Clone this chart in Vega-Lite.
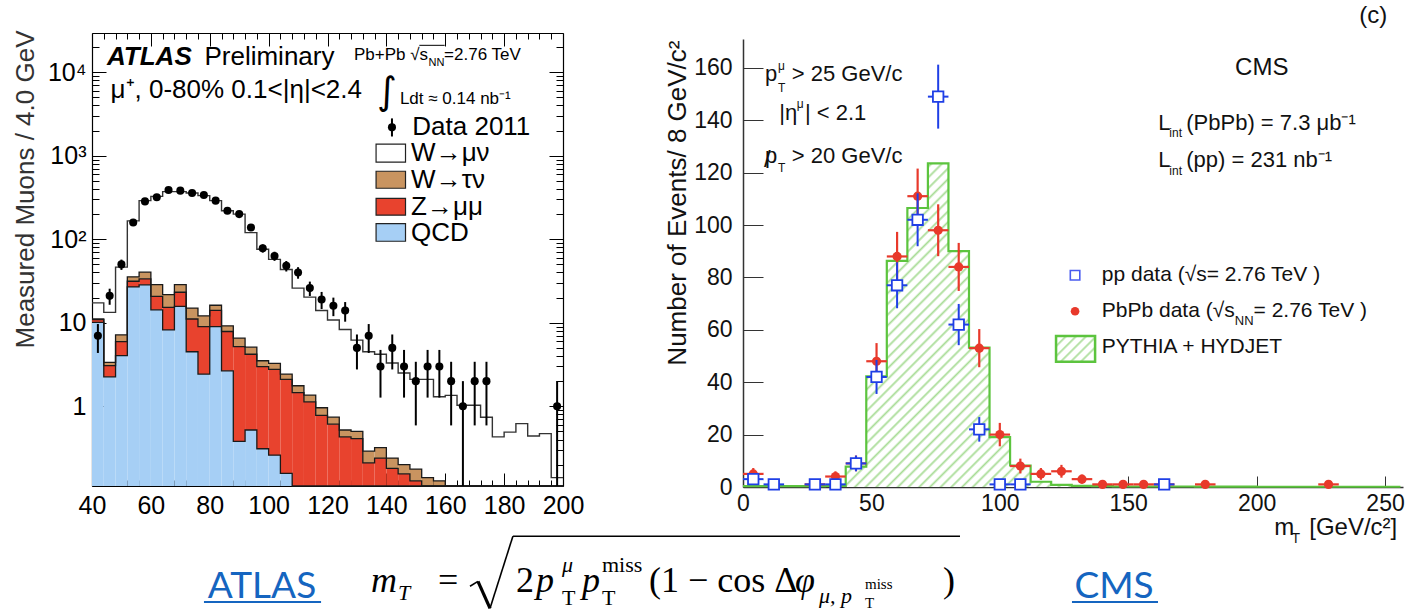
{
"$schema": "https://vega.github.io/schema/vega-lite/v6.json",
"width": 1409, "height": 610, "padding": 0,
"autosize": {"type": "none"},
"background": "#ffffff",
"config": {"view": {"stroke": null}, "font": "Liberation Sans", "axis": {"grid": false, "labelFont": "Liberation Sans", "titleFont": "Liberation Sans"}},
"resolve": {"scale": {"x": "independent", "y": "independent"}},
"layer": [
{
"data": {"values": [
{"lo":40,"hi":44,"q":10.1,"z":10.9,"wt":11.1,"tot":17.3},
{"lo":44,"hi":48,"q":2.25,"z":3.06,"wt":3.36,"tot":13.3},
{"lo":48,"hi":52,"q":4.04,"z":5.95,"wt":7.17,"tot":46.4},
{"lo":52,"hi":56,"q":26.9,"z":31.4,"wt":35.5,"tot":166},
{"lo":56,"hi":60,"q":28.5,"z":33.6,"wt":40.4,"tot":290},
{"lo":60,"hi":64,"q":14.3,"z":20.7,"wt":28.7,"tot":326},
{"lo":64,"hi":68,"q":8.2,"z":15.3,"wt":21.7,"tot":372},
{"lo":68,"hi":72,"q":15.7,"z":23.2,"wt":28.7,"tot":372},
{"lo":72,"hi":76,"q":4.5,"z":11.1,"wt":15.0,"tot":358},
{"lo":76,"hi":80,"q":2.43,"z":9.0,"wt":12.1,"tot":333},
{"lo":80,"hi":84,"q":9.0,"z":14.1,"wt":16.2,"tot":290},
{"lo":84,"hi":88,"q":2.66,"z":7.86,"wt":9.2,"tot":219},
{"lo":88,"hi":92,"q":0.38,"z":5.18,"wt":6.54,"tot":200},
{"lo":92,"hi":96,"q":0.52,"z":4.2,"wt":5.1,"tot":120},
{"lo":96,"hi":100,"q":0.31,"z":2.98,"wt":3.51,"tot":76},
{"lo":100,"hi":104,"q":0.26,"z":2.77,"wt":3.27,"tot":57.5},
{"lo":104,"hi":108,"q":0.157,"z":2.1,"wt":2.43,"tot":43.4},
{"lo":108,"hi":112,"q":0.01,"z":1.46,"wt":1.76,"tot":26},
{"lo":112,"hi":116,"q":0.01,"z":1.13,"wt":1.36,"tot":20.3},
{"lo":116,"hi":120,"q":0.01,"z":0.78,"wt":0.96,"tot":14},
{"lo":120,"hi":124,"q":0.01,"z":0.61,"wt":0.74,"tot":10.8},
{"lo":124,"hi":128,"q":0.01,"z":0.43,"wt":0.52,"tot":8.3},
{"lo":128,"hi":132,"q":0.01,"z":0.41,"wt":0.5,"tot":6.2},
{"lo":132,"hi":136,"q":0.01,"z":0.21,"wt":0.29,"tot":4.5},
{"lo":136,"hi":140,"q":0.01,"z":0.24,"wt":0.32,"tot":4.2},
{"lo":140,"hi":144,"q":0.01,"z":0.18,"wt":0.24,"tot":3.3},
{"lo":144,"hi":148,"q":0.01,"z":0.155,"wt":0.2,"tot":2.5},
{"lo":148,"hi":152,"q":0.01,"z":0.128,"wt":0.177,"tot":2.1},
{"lo":152,"hi":156,"q":0.01,"z":0.1,"wt":0.14,"tot":2.1},
{"lo":156,"hi":160,"q":0.01,"z":0.01,"wt":0.128,"tot":1.3},
{"lo":160,"hi":164,"q":0.01,"z":0.01,"wt":0.01,"tot":1.35},
{"lo":164,"hi":168,"q":0.01,"z":0.01,"wt":0.01,"tot":1.03},
{"lo":168,"hi":172,"q":0.01,"z":0.01,"wt":0.01,"tot":1.03},
{"lo":172,"hi":176,"q":0.01,"z":0.01,"wt":0.01,"tot":0.74},
{"lo":176,"hi":180,"q":0.01,"z":0.01,"wt":0.01,"tot":0.43},
{"lo":180,"hi":184,"q":0.01,"z":0.01,"wt":0.01,"tot":0.49},
{"lo":184,"hi":188,"q":0.01,"z":0.01,"wt":0.01,"tot":0.62},
{"lo":188,"hi":192,"q":0.01,"z":0.01,"wt":0.01,"tot":0.44},
{"lo":192,"hi":196,"q":0.01,"z":0.01,"wt":0.01,"tot":0.47},
{"lo":196,"hi":200,"q":0.01,"z":0.01,"wt":0.01,"tot":0.14},
{"lo":200,"q":0.01,"z":0.01,"wt":0.01,"tot":0.14}
]},
"resolve": {"axis": {"x": "independent", "y": "independent"}},
"layer": [
{"transform": [{"filter": "isValid(datum.hi)"}],
 "mark": {"type": "rect", "fill": "#a6cff5"},
 "encoding": {
  "x": {"field": "lo", "type": "quantitative", "scale": {"domain": [40, 200], "range": [92, 563], "nice": false, "zero": false},
        "axis": {"orient": "bottom", "offset": -124, "values": [40,60,80,100,120,140,160,180,200], "ticks": false, "labelPadding": 7, "labelFontSize": 25, "labelColor": "#000", "labelFlush": false, "labelOverlap": false, "domainColor": "#000", "domainWidth": 1.2, "title": null}},
  "x2": {"field": "hi"},
  "y": {"field": "q", "type": "quantitative", "scale": {"type": "log", "domain": [0.111, 29500], "range": [486, 33], "nice": false, "clamp": true},
        "axis": {"orient": "left", "offset": -92, "values": [1,10,100,1000,10000], "ticks": false, "labelPadding": 6, "labelFontSize": 25, "labelColor": "#000", "labelOverlap": false, "labelExpr": "datum.value >= 10000 ? '10⁴' : datum.value >= 1000 ? '10³' : datum.value >= 100 ? '10²' : datum.value >= 10 ? '10' : '1'", "domainColor": "#000", "domainWidth": 1.2, "title": "Measured Muons / 4.0 GeV", "titleFontSize": 26, "titleFontWeight": "normal", "titleColor": "#333", "titleAnchor": "end", "titleY": 30, "titlePadding": 9}},
  "y2": {"datum": 0.111}
 }},
{"transform": [{"filter": "isValid(datum.hi)"}],
 "mark": {"type": "rect", "fill": "#e8432e"},
 "encoding": {
  "x": {"field": "lo", "type": "quantitative", "axis": {"orient": "top", "offset": -486, "values": [40,60,80,100,120,140,160,180,200], "tickSize": 13, "tickColor": "#000", "labels": false, "domain": false, "title": null}},
  "x2": {"field": "hi"},
  "y": {"field": "z", "type": "quantitative", "axis": {"orient": "right", "offset": -1317, "values": [1,10,100,1000,10000], "tickSize": 14, "tickColor": "#000", "labels": false, "domain": false, "title": null}},
  "y2": {"field": "q"}
 }},
{"transform": [{"filter": "isValid(datum.hi)"}],
 "mark": {"type": "rect", "fill": "#c99460"},
 "encoding": {
  "x": {"field": "lo", "type": "quantitative", "axis": {"orient": "top", "offset": -486, "values": [44,48,52,56,64,68,72,76,84,88,92,96,104,108,112,116,124,128,132,136,144,148,152,156,164,168,172,176,184,188,192,196], "tickSize": 6, "tickColor": "#000", "labels": false, "domain": false, "title": null}},
  "x2": {"field": "hi"},
  "y": {"field": "wt", "type": "quantitative", "axis": {"orient": "right", "offset": -1317, "values": [0.2,0.3,0.4,0.5,0.6,0.7,0.8,0.9,2,3,4,5,6,7,8,9,20,30,40,50,60,70,80,90,200,300,400,500,600,700,800,900,2000,3000,4000,5000,6000,7000,8000,9000,20000], "tickSize": 7, "tickColor": "#000", "labels": false, "domain": false, "title": null}},
  "y2": {"field": "z"}
 }},
{"mark": {"type": "line", "interpolate": "step-after", "color": "#1a1a1a", "strokeWidth": 1.3},
 "encoding": {
  "x": {"field": "lo", "type": "quantitative", "axis": {"orient": "bottom", "offset": -577, "values": [40,60,80,100,120,140,160,180,200], "tickSize": 13, "tickColor": "#000", "labels": false, "domain": true, "domainColor": "#000", "domainWidth": 1.2, "title": null}},
  "y": {"field": "q", "type": "quantitative", "axis": {"orient": "left", "offset": -563, "values": [1,10,100,1000,10000], "tickSize": 14, "tickColor": "#000", "labels": false, "domain": true, "domainColor": "#000", "domainWidth": 1.2, "title": null}}
 }},
{"mark": {"type": "line", "interpolate": "step-after", "color": "#1a1a1a", "strokeWidth": 1.3},
 "encoding": {
  "x": {"field": "lo", "type": "quantitative", "axis": {"orient": "bottom", "offset": -577, "values": [44,48,52,56,64,68,72,76,84,88,92,96,104,108,112,116,124,128,132,136,144,148,152,156,164,168,172,176,184,188,192,196], "tickSize": 6, "tickColor": "#000", "labels": false, "domain": false, "title": null}},
  "y": {"field": "z", "type": "quantitative", "axis": {"orient": "left", "offset": -563, "values": [0.2,0.3,0.4,0.5,0.6,0.7,0.8,0.9,2,3,4,5,6,7,8,9,20,30,40,50,60,70,80,90,200,300,400,500,600,700,800,900,2000,3000,4000,5000,6000,7000,8000,9000,20000], "tickSize": 7, "tickColor": "#000", "labels": false, "domain": false, "title": null}}
 }},
{"mark": {"type": "line", "interpolate": "step-after", "color": "#1a1a1a", "strokeWidth": 1.3},
 "encoding": {"x": {"field": "lo", "type": "quantitative", "axis": null}, "y": {"field": "wt", "type": "quantitative", "axis": null}}},
{"mark": {"type": "line", "interpolate": "step-after", "color": "#333333", "strokeWidth": 1.4},
 "encoding": {"x": {"field": "lo", "type": "quantitative", "axis": null}, "y": {"field": "tot", "type": "quantitative", "axis": null}}},
{"data": {"values": [
{"m":42,"n":7,"lo":4.35,"hi":9.65},{"m":46,"n":21,"lo":16.42,"hi":25.58},{"m":50,"n":50,"lo":42.93,"hi":57.07},{"m":54,"n":159,"lo":146.4,"hi":171.6},
{"m":58,"n":284,"lo":267.1,"hi":300.9},{"m":62,"n":318,"lo":300.2,"hi":335.8},{"m":66,"n":389,"lo":369.3,"hi":408.7},{"m":70,"n":382,"lo":362.5,"hi":401.5},
{"m":74,"n":358,"lo":339.1,"hi":376.9},{"m":78,"n":339,"lo":320.6,"hi":357.4},{"m":82,"n":290,"lo":273,"hi":307},{"m":86,"n":219,"lo":204.2,"hi":233.8},
{"m":90,"n":200,"lo":185.9,"hi":214.1},{"m":94,"n":138,"lo":126.3,"hi":149.7},{"m":98,"n":78,"lo":69.2,"hi":86.8},{"m":102,"n":63,"lo":55.1,"hi":70.9},
{"m":106,"n":48,"lo":41.1,"hi":54.9},{"m":110,"n":40,"lo":33.7,"hi":46.3},{"m":114,"n":26,"lo":20.9,"hi":31.1},{"m":118,"n":19,"lo":14.6,"hi":23.4},
{"m":122,"n":16,"lo":12,"hi":20},{"m":126,"n":14,"lo":10.3,"hi":17.7},{"m":130,"n":5,"lo":2.76,"hi":7.24},{"m":134,"n":7,"lo":4.35,"hi":9.65},
{"m":138,"n":3,"lo":1.27,"hi":4.73},{"m":142,"n":5,"lo":2.76,"hi":7.24},{"m":146,"n":3,"lo":1.27,"hi":4.73},{"m":150,"n":2,"lo":0.59,"hi":3.41},
{"m":154,"n":3,"lo":1.27,"hi":4.73},{"m":158,"n":3,"lo":1.27,"hi":4.73},{"m":162,"n":2,"lo":0.59,"hi":3.41},{"m":166,"n":1,"lo":0.01,"hi":2},
{"m":170,"n":2,"lo":0.59,"hi":3.41},{"m":174,"n":2,"lo":0.59,"hi":3.41},{"m":198,"n":1,"lo":0.01,"hi":2}
]},
 "layer": [
  {"mark": {"type": "rule", "color": "#000", "strokeWidth": 2},
   "encoding": {"x": {"field": "m", "type": "quantitative", "axis": null}, "y": {"field": "lo", "type": "quantitative", "axis": null}, "y2": {"field": "hi"}}},
  {"mark": {"type": "point", "filled": true, "color": "#000", "size": 65, "opacity": 1},
   "encoding": {"x": {"field": "m", "type": "quantitative", "axis": null}, "y": {"field": "n", "type": "quantitative", "axis": null}}}
 ]},
{"data": {"values": [
 {"label": "W→μν", "x1": 136.5, "x2": 146.5, "y1": 838, "y2": 1374},
 {"label": "W→τν", "x1": 136.5, "x2": 146.5, "y1": 408, "y2": 652},
 {"label": "Z→μμ", "x1": 136.5, "x2": 146.5, "y1": 194, "y2": 309},
 {"label": "QCD", "x1": 136.5, "x2": 146.5, "y1": 94.6, "y2": 154}
]},
 "mark": {"type": "rect", "stroke": "#222", "strokeWidth": 1.2},
 "encoding": {
  "x": {"field": "x1", "type": "quantitative", "axis": null}, "x2": {"field": "x2"},
  "y": {"field": "y1", "type": "quantitative", "axis": null}, "y2": {"field": "y2"},
  "fill": {"field": "label", "type": "nominal", "legend": null, "scale": {"domain": ["W→μν", "W→τν", "Z→μμ", "QCD"], "range": ["#ffffff", "#c99460", "#e8432e", "#a6cff5"]}}
 }},
{"data": {"values": [{"x": 141.9, "y": 2188, "lo": 1700, "hi": 2800}]},
 "layer": [
  {"mark": {"type": "rule", "color": "#000", "strokeWidth": 2}, "encoding": {"x": {"field": "x", "type": "quantitative", "axis": null}, "y": {"field": "lo", "type": "quantitative", "axis": null}, "y2": {"field": "hi"}}},
  {"mark": {"type": "point", "filled": true, "color": "#000", "size": 65, "opacity": 1}, "encoding": {"x": {"field": "x", "type": "quantitative", "axis": null}, "y": {"field": "y", "type": "quantitative", "axis": null}}}
 ]},
{"data": {"values": [
 {"t": "Preliminary", "x": 78.2, "y": 15070},
 {"t": "μ⁺, 0-80% 0.1<|η|<2.4", "x": 46.3, "y": 6095},
 {"t": "Data 2011", "x": 148.8, "y": 2188},
 {"t": "W→μν", "x": 148.4, "y": 1076},
 {"t": "W→τν", "x": 148.4, "y": 516},
 {"t": "Z→μμ", "x": 148.4, "y": 245},
 {"t": "QCD", "x": 148.4, "y": 120}
]},
 "mark": {"type": "text", "align": "left", "baseline": "middle", "fontSize": 26, "font": "Liberation Sans", "color": "#000"},
 "encoding": {"x": {"field": "x", "type": "quantitative", "axis": null}, "y": {"field": "y", "type": "quantitative", "axis": null}, "text": {"field": "t"}}},
{"data": {"values": [{"t": "ATLAS", "x": 45.1, "y": 15070}]},
 "mark": {"type": "text", "align": "left", "baseline": "middle", "fontSize": 26, "fontWeight": "bold", "fontStyle": "italic", "font": "Liberation Sans", "color": "#000"},
 "encoding": {"x": {"field": "x", "type": "quantitative", "axis": null}, "y": {"field": "y", "type": "quantitative", "axis": null}, "text": {"field": "t"}}},
{"data": {"values": [{"t": "Pb+Pb √s", "x": 129, "y": 16220}, {"t": "=2.76 TeV", "x": 159.6, "y": 16220}, {"t": "Ldt ≈ 0.14 nb⁻¹", "x": 144.6, "y": 4830}]},
 "mark": {"type": "text", "align": "left", "baseline": "middle", "fontSize": 17, "font": "Liberation Sans", "color": "#000"},
 "encoding": {"x": {"field": "x", "type": "quantitative", "axis": null}, "y": {"field": "y", "type": "quantitative", "axis": null}, "text": {"field": "t"}}},
{"data": {"values": [{"t": "NN", "x": 154.3, "y": 12880}]},
 "mark": {"type": "text", "align": "left", "baseline": "middle", "fontSize": 11, "font": "Liberation Sans", "color": "#000"},
 "encoding": {"x": {"field": "x", "type": "quantitative", "axis": null}, "y": {"field": "y", "type": "quantitative", "axis": null}, "text": {"field": "t"}}},
{"data": {"values": [{"x": 151.2, "x2": 159.8, "y": 21000}]},
 "mark": {"type": "rule", "color": "#000", "strokeWidth": 1},
 "encoding": {"x": {"field": "x", "type": "quantitative", "axis": null}, "x2": {"field": "x2"}, "y": {"field": "y", "type": "quantitative", "axis": null}}},
{"data": {"values": [{"t": "∫", "x": 140.3, "y": 5715}]},
 "mark": {"type": "text", "align": "center", "baseline": "middle", "fontSize": 38, "font": "DejaVu Sans", "color": "#000"},
 "encoding": {"x": {"field": "x", "type": "quantitative", "axis": null}, "y": {"field": "y", "type": "quantitative", "axis": null}, "text": {"field": "t"}}}
]
},
{
"resolve": {"axis": {"x": "independent", "y": "independent"}},
"layer": [
{"data": {"values": [
 {"m":40,"v":7.8},{"m":48,"v":42.2},{"m":56,"v":86.3},{"m":64,"v":106.5},{"m":72,"v":123.5},{"m":80,"v":90},{"m":88,"v":53.2},{"m":96,"v":19},{"m":104,"v":8.2},{"m":112,"v":2},{"m":120,"v":0.8},{"m":128,"v":0.4},{"m":136,"v":0.3}
]},
 "mark": {"type": "area", "interpolate": "step-after", "fill": {"gradient": "linear", "x1": 0, "y1": 0, "x2": 1, "y2": 1.31, "stops": [
{"offset":0,"color":"#a8dc96"},{"offset":0.004,"color":"#fff"},{"offset":0.0125,"color":"#fff"},
{"offset":0.016,"color":"#a8dc96"},{"offset":0.02,"color":"#fff"},{"offset":0.0285,"color":"#fff"},
{"offset":0.032,"color":"#a8dc96"},{"offset":0.036,"color":"#fff"},{"offset":0.0445,"color":"#fff"},
{"offset":0.048,"color":"#a8dc96"},{"offset":0.052,"color":"#fff"},{"offset":0.0605,"color":"#fff"},
{"offset":0.064,"color":"#a8dc96"},{"offset":0.068,"color":"#fff"},{"offset":0.0765,"color":"#fff"},
{"offset":0.08,"color":"#a8dc96"},{"offset":0.084,"color":"#fff"},{"offset":0.0925,"color":"#fff"},
{"offset":0.096,"color":"#a8dc96"},{"offset":0.1,"color":"#fff"},{"offset":0.1085,"color":"#fff"},
{"offset":0.112,"color":"#a8dc96"},{"offset":0.116,"color":"#fff"},{"offset":0.1245,"color":"#fff"},
{"offset":0.128,"color":"#a8dc96"},{"offset":0.132,"color":"#fff"},{"offset":0.1405,"color":"#fff"},
{"offset":0.144,"color":"#a8dc96"},{"offset":0.148,"color":"#fff"},{"offset":0.1565,"color":"#fff"},
{"offset":0.16,"color":"#a8dc96"},{"offset":0.164,"color":"#fff"},{"offset":0.1725,"color":"#fff"},
{"offset":0.176,"color":"#a8dc96"},{"offset":0.18,"color":"#fff"},{"offset":0.1885,"color":"#fff"},
{"offset":0.192,"color":"#a8dc96"},{"offset":0.196,"color":"#fff"},{"offset":0.2045,"color":"#fff"},
{"offset":0.208,"color":"#a8dc96"},{"offset":0.212,"color":"#fff"},{"offset":0.2205,"color":"#fff"},
{"offset":0.224,"color":"#a8dc96"},{"offset":0.228,"color":"#fff"},{"offset":0.2365,"color":"#fff"},
{"offset":0.24,"color":"#a8dc96"},{"offset":0.244,"color":"#fff"},{"offset":0.2525,"color":"#fff"},
{"offset":0.256,"color":"#a8dc96"},{"offset":0.26,"color":"#fff"},{"offset":0.2685,"color":"#fff"},
{"offset":0.272,"color":"#a8dc96"},{"offset":0.276,"color":"#fff"},{"offset":0.2845,"color":"#fff"},
{"offset":0.288,"color":"#a8dc96"},{"offset":0.292,"color":"#fff"},{"offset":0.3005,"color":"#fff"},
{"offset":0.304,"color":"#a8dc96"},{"offset":0.308,"color":"#fff"},{"offset":0.3165,"color":"#fff"},
{"offset":0.32,"color":"#a8dc96"},{"offset":0.324,"color":"#fff"},{"offset":0.3325,"color":"#fff"},
{"offset":0.336,"color":"#a8dc96"},{"offset":0.34,"color":"#fff"},{"offset":0.3485,"color":"#fff"},
{"offset":0.352,"color":"#a8dc96"},{"offset":0.356,"color":"#fff"},{"offset":0.3645,"color":"#fff"},
{"offset":0.368,"color":"#a8dc96"},{"offset":0.372,"color":"#fff"},{"offset":0.3805,"color":"#fff"},
{"offset":0.384,"color":"#a8dc96"},{"offset":0.388,"color":"#fff"},{"offset":0.3965,"color":"#fff"},
{"offset":0.4,"color":"#a8dc96"},{"offset":0.404,"color":"#fff"},{"offset":0.4125,"color":"#fff"},
{"offset":0.416,"color":"#a8dc96"},{"offset":0.42,"color":"#fff"},{"offset":0.4285,"color":"#fff"},
{"offset":0.432,"color":"#a8dc96"},{"offset":0.436,"color":"#fff"},{"offset":0.4445,"color":"#fff"},
{"offset":0.448,"color":"#a8dc96"},{"offset":0.452,"color":"#fff"},{"offset":0.4605,"color":"#fff"},
{"offset":0.464,"color":"#a8dc96"},{"offset":0.468,"color":"#fff"},{"offset":0.4765,"color":"#fff"},
{"offset":0.48,"color":"#a8dc96"},{"offset":0.484,"color":"#fff"},{"offset":0.4925,"color":"#fff"},
{"offset":0.496,"color":"#a8dc96"},{"offset":0.5,"color":"#fff"},{"offset":0.5085,"color":"#fff"},
{"offset":0.512,"color":"#a8dc96"},{"offset":0.516,"color":"#fff"},{"offset":0.5245,"color":"#fff"},
{"offset":0.528,"color":"#a8dc96"},{"offset":0.532,"color":"#fff"},{"offset":0.5405,"color":"#fff"},
{"offset":0.544,"color":"#a8dc96"},{"offset":0.548,"color":"#fff"},{"offset":0.5565,"color":"#fff"},
{"offset":0.56,"color":"#a8dc96"},{"offset":0.564,"color":"#fff"},{"offset":0.5725,"color":"#fff"},
{"offset":0.576,"color":"#a8dc96"},{"offset":0.58,"color":"#fff"},{"offset":0.5885,"color":"#fff"},
{"offset":0.592,"color":"#a8dc96"},{"offset":0.596,"color":"#fff"},{"offset":0.6045,"color":"#fff"},
{"offset":0.608,"color":"#a8dc96"},{"offset":0.612,"color":"#fff"},{"offset":0.6205,"color":"#fff"},
{"offset":0.624,"color":"#a8dc96"},{"offset":0.628,"color":"#fff"},{"offset":0.6365,"color":"#fff"},
{"offset":0.64,"color":"#a8dc96"},{"offset":0.644,"color":"#fff"},{"offset":0.6525,"color":"#fff"},
{"offset":0.656,"color":"#a8dc96"},{"offset":0.66,"color":"#fff"},{"offset":0.6685,"color":"#fff"},
{"offset":0.672,"color":"#a8dc96"},{"offset":0.676,"color":"#fff"},{"offset":0.6845,"color":"#fff"},
{"offset":0.688,"color":"#a8dc96"},{"offset":0.692,"color":"#fff"},{"offset":0.7005,"color":"#fff"},
{"offset":0.704,"color":"#a8dc96"},{"offset":0.708,"color":"#fff"},{"offset":0.7165,"color":"#fff"},
{"offset":0.72,"color":"#a8dc96"},{"offset":0.724,"color":"#fff"},{"offset":0.7325,"color":"#fff"},
{"offset":0.736,"color":"#a8dc96"},{"offset":0.74,"color":"#fff"},{"offset":0.7485,"color":"#fff"},
{"offset":0.752,"color":"#a8dc96"},{"offset":0.756,"color":"#fff"},{"offset":0.7645,"color":"#fff"},
{"offset":0.768,"color":"#a8dc96"},{"offset":0.772,"color":"#fff"},{"offset":0.7805,"color":"#fff"},
{"offset":0.784,"color":"#a8dc96"},{"offset":0.788,"color":"#fff"},{"offset":0.7965,"color":"#fff"},
{"offset":0.8,"color":"#a8dc96"},{"offset":0.804,"color":"#fff"},{"offset":0.8125,"color":"#fff"},
{"offset":0.816,"color":"#a8dc96"},{"offset":0.82,"color":"#fff"},{"offset":0.8285,"color":"#fff"},
{"offset":0.832,"color":"#a8dc96"},{"offset":0.836,"color":"#fff"},{"offset":0.8445,"color":"#fff"},
{"offset":0.848,"color":"#a8dc96"},{"offset":0.852,"color":"#fff"},{"offset":1,"color":"#fff"}
]}},
 "encoding": {
  "x": {"field": "m", "type": "quantitative", "scale": {"domain": [0, 257], "range": [743, 1403], "nice": false, "zero": false},
        "axis": {"orient": "bottom", "offset": -123, "values": [0,50,100,150,200,250], "ticks": false, "labelPadding": 5, "labelFontSize": 23, "labelColor": "#111", "labelFlush": false, "labelOverlap": false, "domainColor": "#333", "domainWidth": 1.5, "title": null}},
  "y": {"field": "v", "type": "quantitative", "scale": {"domain": [0, 171], "range": [487, 39], "nice": false, "zero": false},
        "axis": {"orient": "left", "offset": -743, "values": [0,20,40,60,80,100,120,140,160], "ticks": false, "labelPadding": 11, "labelFontSize": 23, "labelColor": "#111", "labelOverlap": false, "domainColor": "#333", "domainWidth": 1.5, "title": "Number of Events/ 8 GeV/c²", "titleFontSize": 26, "titleFontWeight": "normal", "titleColor": "#111", "titleAnchor": "end", "titleY": 40, "titlePadding": 3}}
 }},
{"data": {"values": [
 {"m":0,"v":0.3},{"m":8,"v":0.3},{"m":16,"v":0.3},{"m":24,"v":0.3},{"m":32,"v":0.4},{"m":40,"v":7.8},{"m":48,"v":42.2},{"m":56,"v":86.3},{"m":64,"v":106.5},{"m":72,"v":123.5},{"m":80,"v":90},{"m":88,"v":53.2},{"m":96,"v":19},{"m":104,"v":8.2},{"m":112,"v":2},{"m":120,"v":0.8},{"m":128,"v":0.4},{"m":136,"v":0.3},{"m":144,"v":0.2},{"m":152,"v":0.2},{"m":160,"v":0.2},{"m":168,"v":0.2},{"m":176,"v":0.15},{"m":184,"v":0.15},{"m":192,"v":0.15},{"m":200,"v":0.1},{"m":208,"v":0.1},{"m":216,"v":0.1},{"m":224,"v":0.1},{"m":232,"v":0.1},{"m":240,"v":0.1},{"m":248,"v":0.1},{"m":256,"v":0.1}
]},
 "mark": {"type": "line", "interpolate": "step-after", "color": "#5cc43e", "strokeWidth": 2.2},
 "encoding": {
  "x": {"field": "m", "type": "quantitative", "axis": {"orient": "top", "offset": -487, "values": [0,50,100,150,200,250], "tickSize": 11, "tickColor": "#333", "labels": false, "domain": false, "title": null}},
  "y": {"field": "v", "type": "quantitative", "axis": {"orient": "right", "offset": -666, "values": [0,20,40,60,80,100,120,140,160], "tickSize": 20, "tickColor": "#333", "labels": false, "domain": false, "title": null}}
 }},
{"data": {"values": [
 {"m":4,"n":5,"lo":2.76,"hi":7.24,"xl":0,"xh":8},{"m":28,"n":1,"lo":0,"hi":2,"xl":24,"xh":32},{"m":36,"n":4,"lo":2,"hi":6,"xl":32,"xh":40},{"m":44,"n":9,"lo":6,"hi":12,"xl":40,"xh":48},
 {"m":52,"n":48,"lo":41.07,"hi":54.93,"xl":48,"xh":56},{"m":60,"n":88,"lo":78.62,"hi":97.38,"xl":56,"xh":64},{"m":68,"n":111,"lo":100.46,"hi":121.54,"xl":64,"xh":72},{"m":76,"n":98,"lo":88.1,"hi":107.9,"xl":72,"xh":80},
 {"m":84,"n":84,"lo":74.83,"hi":93.17,"xl":80,"xh":88},{"m":92,"n":53,"lo":45.72,"hi":60.28,"xl":88,"xh":96},{"m":100,"n":20,"lo":15.53,"hi":24.47,"xl":96,"xh":104},{"m":108,"n":8,"lo":5.17,"hi":10.83,"xl":104,"xh":112},
 {"m":116,"n":5,"lo":2.76,"hi":7.24,"xl":112,"xh":120},{"m":124,"n":6,"lo":3.55,"hi":8.45,"xl":120,"xh":128},{"m":132,"n":3,"lo":1.27,"hi":4.73,"xl":128,"xh":136},{"m":140,"n":1,"lo":0,"hi":2,"xl":136,"xh":144},
 {"m":148,"n":1,"lo":0,"hi":2,"xl":144,"xh":152},{"m":156,"n":1,"lo":0,"hi":2,"xl":152,"xh":160},{"m":164,"n":1,"lo":0,"hi":2,"xl":160,"xh":168},{"m":180,"n":1,"lo":0,"hi":2,"xl":176,"xh":184},{"m":228,"n":1,"lo":0,"hi":2,"xl":224,"xh":232}
]},
 "layer": [
  {"mark": {"type": "rule", "color": "#e8392b", "strokeWidth": 2.2},
   "encoding": {
    "x": {"field": "xl", "type": "quantitative", "axis": {"orient": "top", "offset": -487, "values": [10,20,30,40,60,70,80,90,110,120,130,140,160,170,180,190,210,220,230,240], "tickSize": 5.5, "tickColor": "#333", "labels": false, "domain": false, "title": null}},
    "x2": {"field": "xh"},
    "y": {"field": "n", "type": "quantitative", "axis": {"orient": "right", "offset": -666, "values": [5,10,15,25,30,35,45,50,55,65,70,75,85,90,95,105,110,115,125,130,135,145,150,155,165,170], "tickSize": 10, "tickColor": "#333", "labels": false, "domain": false, "title": null}}
   }},
  {"mark": {"type": "rule", "color": "#e8392b", "strokeWidth": 2.2},
   "encoding": {
    "x": {"field": "m", "type": "quantitative", "axis": {"orient": "top", "offset": -39, "ticks": false, "labels": false, "domain": true, "domainColor": "#333", "domainWidth": 1.5, "title": null}},
    "y": {"field": "lo", "type": "quantitative", "axis": {"orient": "right", "offset": -6, "ticks": false, "labels": false, "domain": true, "domainColor": "#333", "domainWidth": 1.5, "title": null}},
    "y2": {"field": "hi"}
   }},
  {"mark": {"type": "point", "filled": true, "shape": "circle", "color": "#e8392b", "size": 85, "opacity": 1},
   "encoding": {"x": {"field": "m", "type": "quantitative", "axis": null}, "y": {"field": "n", "type": "quantitative", "axis": null}}}
 ]},
{"data": {"values": [
 {"m":4,"n":3,"lo":1.27,"hi":4.73,"xl":0,"xh":8},{"m":12,"n":1,"lo":0,"hi":2,"xl":8,"xh":16},{"m":28,"n":1,"lo":0,"hi":2,"xl":24,"xh":32},{"m":36,"n":1,"lo":0,"hi":2,"xl":32,"xh":40},
 {"m":44,"n":9,"lo":6,"hi":12,"xl":40,"xh":48},{"m":52,"n":42,"lo":35.52,"hi":48.48,"xl":48,"xh":56},{"m":60,"n":77,"lo":68.23,"hi":85.77,"xl":56,"xh":64},{"m":68,"n":102,"lo":91.9,"hi":112.1,"xl":64,"xh":72},
 {"m":76,"n":149,"lo":136.79,"hi":161.21,"xl":72,"xh":80},{"m":84,"n":62,"lo":54.13,"hi":69.87,"xl":80,"xh":88},{"m":92,"n":22,"lo":17.31,"hi":26.69,"xl":88,"xh":96},{"m":100,"n":1,"lo":0,"hi":2,"xl":96,"xh":104},
 {"m":108,"n":1,"lo":0,"hi":2,"xl":104,"xh":112},{"m":164,"n":1,"lo":0,"hi":2,"xl":160,"xh":168}
]},
 "layer": [
  {"mark": {"type": "rule", "color": "#1f3fe6", "strokeWidth": 2},
   "encoding": {"x": {"field": "xl", "type": "quantitative", "axis": null}, "x2": {"field": "xh"}, "y": {"field": "n", "type": "quantitative", "axis": null}}},
  {"mark": {"type": "rule", "color": "#1f3fe6", "strokeWidth": 2},
   "encoding": {"x": {"field": "m", "type": "quantitative", "axis": null}, "y": {"field": "lo", "type": "quantitative", "axis": null}, "y2": {"field": "hi"}}},
  {"mark": {"type": "point", "filled": false, "shape": "square", "fill": "#ffffff", "fillOpacity": 1, "stroke": "#1f3fe6", "strokeWidth": 1.8, "size": 110, "opacity": 1},
   "encoding": {"x": {"field": "m", "type": "quantitative", "axis": null}, "y": {"field": "n", "type": "quantitative", "axis": null}}}
 ]},
{"data": {"values": [{"x": 121.9, "x2": 137.1, "y": 47.8, "y2": 57.6}]},
 "mark": {"type": "rect", "stroke": "#5cc43e", "strokeWidth": 2.5, "fill": {"gradient": "linear", "x1": 0, "y1": 0, "x2": 1, "y2": 0.66, "stops": [
  {"offset":0,"color":"#a8dc96"},{"offset":0.045,"color":"#fff"},{"offset":0.14,"color":"#fff"},
  {"offset":0.18,"color":"#a8dc96"},{"offset":0.225,"color":"#fff"},{"offset":0.32,"color":"#fff"},
  {"offset":0.36,"color":"#a8dc96"},{"offset":0.405,"color":"#fff"},{"offset":0.5,"color":"#fff"},
  {"offset":0.54,"color":"#a8dc96"},{"offset":0.585,"color":"#fff"},{"offset":0.68,"color":"#fff"},
  {"offset":0.72,"color":"#a8dc96"},{"offset":0.765,"color":"#fff"},{"offset":0.86,"color":"#fff"},
  {"offset":0.9,"color":"#a8dc96"},{"offset":0.945,"color":"#fff"},{"offset":1,"color":"#fff"}]}},
 "encoding": {"x": {"field": "x", "type": "quantitative", "axis": null}, "x2": {"field": "x2"}, "y": {"field": "y", "type": "quantitative", "axis": null}, "y2": {"field": "y2"}}},
{"data": {"values": [{"x": 129.3, "y": 80.8}]},
 "mark": {"type": "point", "filled": false, "shape": "square", "fill": "#fff", "fillOpacity": 1, "stroke": "#4a5cf0", "strokeWidth": 1.6, "size": 90, "opacity": 1},
 "encoding": {"x": {"field": "x", "type": "quantitative", "axis": null}, "y": {"field": "y", "type": "quantitative", "axis": null}}},
{"data": {"values": [{"x": 129.3, "y": 67.1}]},
 "mark": {"type": "point", "filled": true, "shape": "circle", "color": "#e8392b", "size": 75, "opacity": 1},
 "encoding": {"x": {"field": "x", "type": "quantitative", "axis": null}, "y": {"field": "y", "type": "quantitative", "axis": null}}},
{"data": {"values": [
 {"t": "pp data (√s= 2.76 TeV )", "x": 139.7, "y": 80.8},
 {"t": "PbPb data (√s", "x": 139.7, "y": 67.1},
 {"t": "= 2.76 TeV )", "x": 198.8, "y": 67.1},
 {"t": "PYTHIA + HYDJET", "x": 139.7, "y": 53.5}
]},
 "mark": {"type": "text", "align": "left", "baseline": "middle", "fontSize": 21, "font": "Liberation Sans", "color": "#111"},
 "encoding": {"x": {"field": "x", "type": "quantitative", "axis": null}, "y": {"field": "y", "type": "quantitative", "axis": null}, "text": {"field": "t"}}},
{"data": {"values": [{"t": "NN", "x": 191.5, "y": 63.3}]},
 "mark": {"type": "text", "align": "left", "baseline": "middle", "fontSize": 13, "font": "Liberation Sans", "color": "#111"},
 "encoding": {"x": {"field": "x", "type": "quantitative", "axis": null}, "y": {"field": "y", "type": "quantitative", "axis": null}, "text": {"field": "t"}}},
{"data": {"values": [
 {"t": "p", "x": 8.6, "y": 154.8}, {"t": "> 25 GeV/c", "x": 19.0, "y": 154.8},
 {"t": "|η", "x": 14.1, "y": 140.1}, {"t": "| < 2.1", "x": 24.1, "y": 140.1},
 {"t": "p", "x": 8.6, "y": 123.6}, {"t": "> 20 GeV/c", "x": 19.0, "y": 123.6},
 {"t": "L", "x": 161.7, "y": 136.4}, {"t": "(PbPb) = 7.3 μb⁻¹", "x": 172.6, "y": 136.4},
 {"t": "L", "x": 161.7, "y": 122}, {"t": "(pp) = 231 nb⁻¹", "x": 172.6, "y": 122}
]},
 "mark": {"type": "text", "align": "left", "baseline": "alphabetic", "fontSize": 22, "font": "Liberation Sans", "color": "#111"},
 "encoding": {"x": {"field": "x", "type": "quantitative", "axis": null}, "y": {"field": "y", "type": "quantitative", "axis": null}, "text": {"field": "t"}}},
{"data": {"values": [
 {"t": "T", "x": 13.6, "y": 150.9}, {"t": "μ", "x": 13.6, "y": 159}, {"t": "μ", "x": 20.9, "y": 144.6}, {"t": "T", "x": 13.6, "y": 120.4},
 {"t": "int", "x": 166.0, "y": 133.5}, {"t": "int", "x": 166.0, "y": 119.2}
]},
 "mark": {"type": "text", "align": "left", "baseline": "alphabetic", "fontSize": 12, "font": "Liberation Sans", "color": "#111"},
 "encoding": {"x": {"field": "x", "type": "quantitative", "axis": null}, "y": {"field": "y", "type": "quantitative", "axis": null}, "text": {"field": "t"}}},
{"data": {"values": [{"t": "/", "x": 8.2, "y": 122.3}]},
 "mark": {"type": "text", "align": "left", "baseline": "alphabetic", "fontSize": 24, "font": "Liberation Sans", "color": "#111"},
 "encoding": {"x": {"field": "x", "type": "quantitative", "axis": null}, "y": {"field": "y", "type": "quantitative", "axis": null}, "text": {"field": "t"}}},
{"data": {"values": [{"t": "CMS", "x": 202, "y": 159.9}, {"t": "(c)", "x": 245.4, "y": 179.6}]},
 "mark": {"type": "text", "align": "center", "baseline": "middle", "fontSize": 24, "font": "Liberation Sans", "color": "#111"},
 "encoding": {"x": {"field": "x", "type": "quantitative", "axis": null}, "y": {"field": "y", "type": "quantitative", "axis": null}, "text": {"field": "t"}}},
{"data": {"values": [{"t": "m", "x": 206.9, "y": -18.5}, {"t": "[GeV/c²]", "x": 220.5, "y": -18.5}]},
 "mark": {"type": "text", "align": "left", "baseline": "alphabetic", "fontSize": 24, "font": "Liberation Sans", "color": "#111"},
 "encoding": {"x": {"field": "x", "type": "quantitative", "axis": null}, "y": {"field": "y", "type": "quantitative", "axis": null}, "text": {"field": "t"}}},
{"data": {"values": [{"t": "T", "x": 213.6, "y": -21.5}]},
 "mark": {"type": "text", "align": "left", "baseline": "alphabetic", "fontSize": 14, "font": "Liberation Sans", "color": "#111"},
 "encoding": {"x": {"field": "x", "type": "quantitative", "axis": null}, "y": {"field": "y", "type": "quantitative", "axis": null}, "text": {"field": "t"}}},
{"data": {"values": [{"t": "ATLAS", "x": -187.3, "y": -42.2}, {"t": "CMS", "x": 144.5, "y": -42.2}]},
 "mark": {"type": "text", "align": "center", "baseline": "alphabetic", "fontSize": 37, "font": "Lato", "color": "#1565c0"},
 "encoding": {"x": {"field": "x", "type": "quantitative", "axis": null}, "y": {"field": "y", "type": "quantitative", "axis": null}, "text": {"field": "t"}}},
{"data": {"values": [{"x": -209.9, "x2": -164.3, "y": -43.9}, {"x": 128.1, "x2": 161.6, "y": -43.9}]},
 "mark": {"type": "rule", "color": "#1565c0", "strokeWidth": 2},
 "encoding": {"x": {"field": "x", "type": "quantitative", "axis": null}, "x2": {"field": "x2"}, "y": {"field": "y", "type": "quantitative", "axis": null}}},
{"data": {"values": [
 {"x": -106.3, "y": -37.9, "x2": -103.2, "y2": -36.0},
 {"x": -98.5, "y": -46.3, "x2": -89.6, "y2": -18.8},
 {"x": -89.6, "y": -18.8, "x2": 84.5, "y2": -18.8}
]},
 "mark": {"type": "rule", "color": "#000", "strokeWidth": 1.6},
 "encoding": {"x": {"field": "x", "type": "quantitative", "axis": null}, "x2": {"field": "x2"}, "y": {"field": "y", "type": "quantitative", "axis": null}, "y2": {"field": "y2"}}},
{"data": {"values": [{"x": -103.2, "y": -36.0, "x2": -98.5, "y2": -46.3}]},
 "mark": {"type": "rule", "color": "#000", "strokeWidth": 3.2},
 "encoding": {"x": {"field": "x", "type": "quantitative", "axis": null}, "x2": {"field": "x2"}, "y": {"field": "y", "type": "quantitative", "axis": null}, "y2": {"field": "y2"}}},
{"data": {"values": [{"t": "=", "x": -118.8, "y": -40.2}, {"t": "2", "x": -88.4, "y": -40.2}, {"t": "(1 − cos Δ", "x": -36.6, "y": -40.2}, {"t": ")", "x": 77.9, "y": -40.2}]},
 "mark": {"type": "text", "align": "left", "baseline": "alphabetic", "fontSize": 36, "font": "Liberation Serif", "color": "#000"},
 "encoding": {"x": {"field": "x", "type": "quantitative", "axis": null}, "y": {"field": "y", "type": "quantitative", "axis": null}, "text": {"field": "t"}}},
{"data": {"values": [{"t": "m", "x": -144.9, "y": -40.2}, {"t": "p", "x": -80.6, "y": -40.2}, {"t": "p", "x": -62.7, "y": -40.2}, {"t": "φ", "x": 20.2, "y": -40.2}]},
 "mark": {"type": "text", "align": "left", "baseline": "alphabetic", "fontSize": 36, "fontStyle": "italic", "font": "Liberation Serif", "color": "#000"},
 "encoding": {"x": {"field": "x", "type": "quantitative", "axis": null}, "y": {"field": "y", "type": "quantitative", "axis": null}, "text": {"field": "t"}}},
{"data": {"values": [{"t": "T", "x": -134.3, "y": -43.3}, {"t": "μ", "x": -70.5, "y": -32.6}, {"t": "μ, p", "x": 29.6, "y": -44.1}]},
 "mark": {"type": "text", "align": "left", "baseline": "alphabetic", "fontSize": 22, "fontStyle": "italic", "font": "Liberation Serif", "color": "#000"},
 "encoding": {"x": {"field": "x", "type": "quantitative", "axis": null}, "y": {"field": "y", "type": "quantitative", "axis": null}, "text": {"field": "t"}}},
{"data": {"values": [{"t": "T", "x": -70.5, "y": -45.2}, {"t": "miss", "x": -54.9, "y": -32.6}, {"t": "T", "x": -54.9, "y": -45.2}]},
 "mark": {"type": "text", "align": "left", "baseline": "alphabetic", "fontSize": 22, "font": "Liberation Serif", "color": "#000"},
 "encoding": {"x": {"field": "x", "type": "quantitative", "axis": null}, "y": {"field": "y", "type": "quantitative", "axis": null}, "text": {"field": "t"}}},
{"data": {"values": [{"t": "miss", "x": 47.5, "y": -39.0}, {"t": "T", "x": 47.5, "y": -46.3}]},
 "mark": {"type": "text", "align": "left", "baseline": "alphabetic", "fontSize": 15, "font": "Liberation Serif", "color": "#000"},
 "encoding": {"x": {"field": "x", "type": "quantitative", "axis": null}, "y": {"field": "y", "type": "quantitative", "axis": null}, "text": {"field": "t"}}}
]
}
]
}
